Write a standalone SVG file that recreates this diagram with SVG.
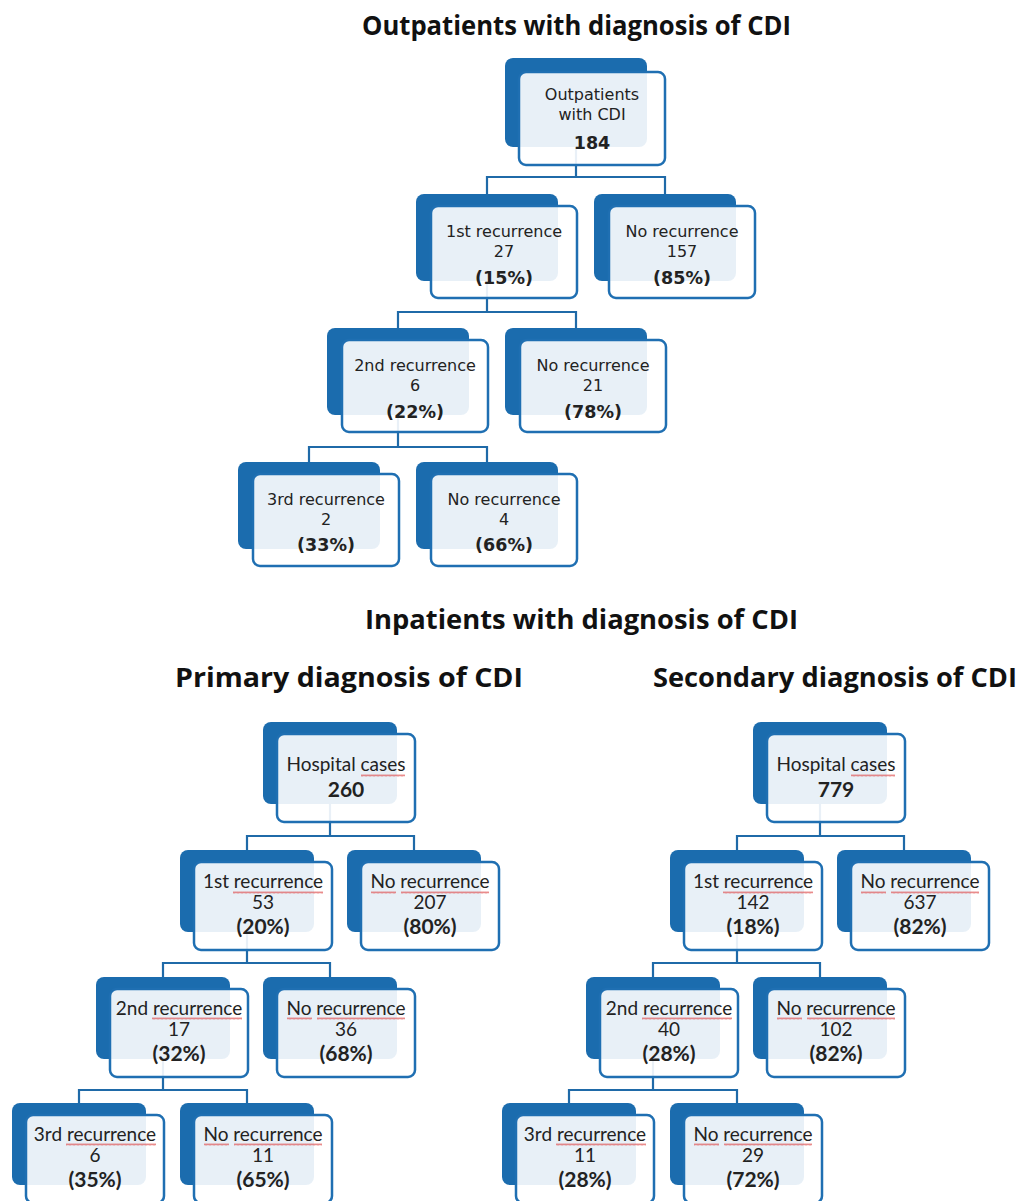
<svg xmlns="http://www.w3.org/2000/svg" width="1019" height="1201" viewBox="0 0 1019 1201">
<defs>
<style>
.bk{fill:#1b6cae;}
.fr{fill:#ffffff;fill-opacity:0.9;stroke:#1f6fb2;stroke-width:2.5;}
.con{fill:none;stroke:#1f6aa8;stroke-width:2.2;}
.title{font-family:"Open Sans","Liberation Sans",sans-serif;font-weight:bold;font-size:26px;fill:#111;}
.t{font-family:"DejaVu Sans","Liberation Sans",sans-serif;font-size:16px;fill:#222;text-anchor:middle;}
.tb{font-family:"DejaVu Sans","Liberation Sans",sans-serif;font-size:17.5px;font-weight:bold;fill:#222;text-anchor:middle;}
.u{font-family:Lato,"Liberation Sans",sans-serif;font-size:19px;fill:#222;text-anchor:middle;}
.ub{font-family:Lato,"Liberation Sans",sans-serif;font-size:21px;font-weight:bold;fill:#222;text-anchor:middle;}
.sq{fill:url(#sq);}
</style>
<pattern id="sq" width="4" height="3" patternUnits="userSpaceOnUse">
<path d="M0 2.5 L1 0.5 L2 2.5 L3 0.5 L4 2.5" fill="none" stroke="#e05a5a" stroke-width="0.7"/>
</pattern>
</defs>
<rect width="1019" height="1201" fill="#ffffff"/>

<g id="titles">
<text class="title" x="362" y="35" textLength="429" lengthAdjust="spacingAndGlyphs">Outpatients with diagnosis of CDI</text>
<text class="title" x="365" y="629" textLength="433" lengthAdjust="spacingAndGlyphs">Inpatients with diagnosis of CDI</text>
<text class="title" x="175" y="687" textLength="348" lengthAdjust="spacingAndGlyphs">Primary diagnosis of CDI</text>
<text class="title" x="653" y="687" textLength="364" lengthAdjust="spacingAndGlyphs">Secondary diagnosis of CDI</text>
</g>

<g id="connectors">
<path class="con" d="M576 147 V177 M487 194 V177 H665 V194"/>
<path class="con" d="M487 281 V312 M398 328 V312 H576 V328"/>
<path class="con" d="M398 415 V447 M309 462 V447 H487 V462"/>
<path class="con" d="M330 804 V836 M247 850 V836 H414 V850"/>
<path class="con" d="M247 932 V963 M163 977 V963 H330 V977"/>
<path class="con" d="M163 1059 V1090 M79 1103 V1090 H247 V1103"/>
<path class="con" d="M820 804 V836 M737 850 V836 H904 V850"/>
<path class="con" d="M737 932 V963 M653 977 V963 H820 V977"/>
<path class="con" d="M653 1059 V1090 M569 1103 V1090 H737 V1103"/>
</g>

<!-- Outpatient tree -->
<g id="op-root">
<rect class="bk" x="505" y="58" width="142" height="89" rx="8"/>
<rect class="fr" x="519" y="72" width="146" height="93" rx="7"/>
<text class="t" x="592" y="100">Outpatients</text>
<text class="t" x="592" y="120">with CDI</text>
<text class="tb" x="592" y="149">184</text>
</g>
<g id="op-r1">
<rect class="bk" x="416" y="194" width="142" height="87" rx="8"/>
<rect class="fr" x="431" y="206" width="146" height="92" rx="7"/>
<text class="t" x="504" y="237">1st recurrence</text>
<text class="t" x="504" y="257">27</text>
<text class="tb" x="504" y="284">(15%)</text>
</g>
<g id="op-n1">
<rect class="bk" x="594" y="194" width="142" height="87" rx="8"/>
<rect class="fr" x="609" y="206" width="146" height="92" rx="7"/>
<text class="t" x="682" y="237">No recurrence</text>
<text class="t" x="682" y="257">157</text>
<text class="tb" x="682" y="284">(85%)</text>
</g>
<g id="op-r2">
<rect class="bk" x="327" y="328" width="142" height="87" rx="8"/>
<rect class="fr" x="342" y="340" width="146" height="92" rx="7"/>
<text class="t" x="415" y="371">2nd recurrence</text>
<text class="t" x="415" y="391">6</text>
<text class="tb" x="415" y="418">(22%)</text>
</g>
<g id="op-n2">
<rect class="bk" x="505" y="328" width="142" height="87" rx="8"/>
<rect class="fr" x="520" y="340" width="146" height="92" rx="7"/>
<text class="t" x="593" y="371">No recurrence</text>
<text class="t" x="593" y="391">21</text>
<text class="tb" x="593" y="418">(78%)</text>
</g>
<g id="op-r3">
<rect class="bk" x="238" y="462" width="142" height="87" rx="8"/>
<rect class="fr" x="253" y="474" width="146" height="92" rx="7"/>
<text class="t" x="326" y="505">3rd recurrence</text>
<text class="t" x="326" y="525">2</text>
<text class="tb" x="326" y="551">(33%)</text>
</g>
<g id="op-n3">
<rect class="bk" x="416" y="462" width="142" height="87" rx="8"/>
<rect class="fr" x="431" y="474" width="146" height="92" rx="7"/>
<text class="t" x="504" y="505">No recurrence</text>
<text class="t" x="504" y="525">4</text>
<text class="tb" x="504" y="551">(66%)</text>
</g>

<!-- Primary tree -->
<g id="pr-root">
<rect class="bk" x="263" y="722" width="134" height="82" rx="8"/>
<rect class="fr" x="277" y="734" width="138" height="88" rx="7"/>
<text class="u" x="346" y="771">Hospital cases</text>
<rect class="sq" x="361" y="774" width="44" height="3"/>
<text class="ub" x="346" y="797">260</text>
</g>
<g id="pr-r1">
<rect class="bk" x="180" y="850" width="134" height="82" rx="8"/>
<rect class="fr" x="194" y="862" width="138" height="88" rx="7"/>
<text class="u" x="263" y="888">1st recurrence</text>
<rect class="sq" x="233" y="891" width="90" height="3"/>
<text class="u" x="263" y="909">53</text>
<text class="ub" x="263" y="934">(20%)</text>
</g>
<g id="pr-n1">
<rect class="bk" x="347" y="850" width="134" height="82" rx="8"/>
<rect class="fr" x="361" y="862" width="138" height="88" rx="7"/>
<text class="u" x="430" y="888">No recurrence</text>
<rect class="sq" x="371" y="891" width="25" height="3"/>
<rect class="sq" x="401" y="891" width="88" height="3"/>
<text class="u" x="430" y="909">207</text>
<text class="ub" x="430" y="934">(80%)</text>
</g>
<g id="pr-r2">
<rect class="bk" x="96" y="977" width="134" height="82" rx="8"/>
<rect class="fr" x="110" y="989" width="138" height="88" rx="7"/>
<text class="u" x="179" y="1015">2nd recurrence</text>
<rect class="sq" x="152" y="1017" width="90" height="3"/>
<text class="u" x="179" y="1036">17</text>
<text class="ub" x="179" y="1061">(32%)</text>
</g>
<g id="pr-n2">
<rect class="bk" x="263" y="977" width="134" height="82" rx="8"/>
<rect class="fr" x="277" y="989" width="138" height="88" rx="7"/>
<text class="u" x="346" y="1015">No recurrence</text>
<rect class="sq" x="287" y="1017" width="25" height="3"/>
<rect class="sq" x="317" y="1017" width="88" height="3"/>
<text class="u" x="346" y="1036">36</text>
<text class="ub" x="346" y="1061">(68%)</text>
</g>
<g id="pr-r3">
<rect class="bk" x="12" y="1103" width="134" height="82" rx="8"/>
<rect class="fr" x="26" y="1115" width="138" height="88" rx="7"/>
<text class="u" x="95" y="1141">3rd recurrence</text>
<rect class="sq" x="66" y="1143" width="90" height="3"/>
<text class="u" x="95" y="1162">6</text>
<text class="ub" x="95" y="1187">(35%)</text>
</g>
<g id="pr-n3">
<rect class="bk" x="180" y="1103" width="134" height="82" rx="8"/>
<rect class="fr" x="194" y="1115" width="138" height="88" rx="7"/>
<text class="u" x="263" y="1141">No recurrence</text>
<rect class="sq" x="204" y="1143" width="25" height="3"/>
<rect class="sq" x="234" y="1143" width="88" height="3"/>
<text class="u" x="263" y="1162">11</text>
<text class="ub" x="263" y="1187">(65%)</text>
</g>

<!-- Secondary tree -->
<g id="se-root">
<rect class="bk" x="753" y="722" width="134" height="82" rx="8"/>
<rect class="fr" x="767" y="734" width="138" height="88" rx="7"/>
<text class="u" x="836" y="771">Hospital cases</text>
<rect class="sq" x="851" y="774" width="44" height="3"/>
<text class="ub" x="836" y="797">779</text>
</g>
<g id="se-r1">
<rect class="bk" x="670" y="850" width="134" height="82" rx="8"/>
<rect class="fr" x="684" y="862" width="138" height="88" rx="7"/>
<text class="u" x="753" y="888">1st recurrence</text>
<rect class="sq" x="723" y="891" width="90" height="3"/>
<text class="u" x="753" y="909">142</text>
<text class="ub" x="753" y="934">(18%)</text>
</g>
<g id="se-n1">
<rect class="bk" x="837" y="850" width="134" height="82" rx="8"/>
<rect class="fr" x="851" y="862" width="138" height="88" rx="7"/>
<text class="u" x="920" y="888">No recurrence</text>
<rect class="sq" x="861" y="891" width="25" height="3"/>
<rect class="sq" x="891" y="891" width="88" height="3"/>
<text class="u" x="920" y="909">637</text>
<text class="ub" x="920" y="934">(82%)</text>
</g>
<g id="se-r2">
<rect class="bk" x="586" y="977" width="134" height="82" rx="8"/>
<rect class="fr" x="600" y="989" width="138" height="88" rx="7"/>
<text class="u" x="669" y="1015">2nd recurrence</text>
<rect class="sq" x="642" y="1017" width="90" height="3"/>
<text class="u" x="669" y="1036">40</text>
<text class="ub" x="669" y="1061">(28%)</text>
</g>
<g id="se-n2">
<rect class="bk" x="753" y="977" width="134" height="82" rx="8"/>
<rect class="fr" x="767" y="989" width="138" height="88" rx="7"/>
<text class="u" x="836" y="1015">No recurrence</text>
<rect class="sq" x="777" y="1017" width="25" height="3"/>
<rect class="sq" x="807" y="1017" width="88" height="3"/>
<text class="u" x="836" y="1036">102</text>
<text class="ub" x="836" y="1061">(82%)</text>
</g>
<g id="se-r3">
<rect class="bk" x="502" y="1103" width="134" height="82" rx="8"/>
<rect class="fr" x="516" y="1115" width="138" height="88" rx="7"/>
<text class="u" x="585" y="1141">3rd recurrence</text>
<rect class="sq" x="556" y="1143" width="90" height="3"/>
<text class="u" x="585" y="1162">11</text>
<text class="ub" x="585" y="1187">(28%)</text>
</g>
<g id="se-n3">
<rect class="bk" x="670" y="1103" width="134" height="82" rx="8"/>
<rect class="fr" x="684" y="1115" width="138" height="88" rx="7"/>
<text class="u" x="753" y="1141">No recurrence</text>
<rect class="sq" x="694" y="1143" width="25" height="3"/>
<rect class="sq" x="724" y="1143" width="88" height="3"/>
<text class="u" x="753" y="1162">29</text>
<text class="ub" x="753" y="1187">(72%)</text>
</g>
</svg>
